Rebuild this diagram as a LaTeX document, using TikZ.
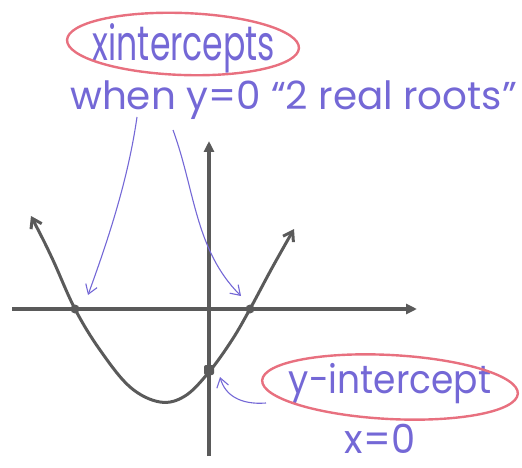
\documentclass[tikz,border=0pt]{standalone}
\usepackage{fontspec}
\setmainfont{Poppins}
\usetikzlibrary{arrows.meta,shapes.geometric}
\definecolor{pen}{HTML}{7468D6}
\definecolor{hl}{HTML}{E8707F}
\definecolor{ink}{HTML}{5A5A5A}
\tikzset{
  axis/.style={ink, line width=3.4pt, -{Triangle[length=11pt,width=10pt]}},
  curve/.style={ink, line width=3pt, {Straight Barb[length=9pt,width=12pt]}-{Straight Barb[length=9pt,width=12pt]}},
  dot/.style={circle, fill=ink, inner sep=0pt, minimum size=9pt},
  penarrow/.style={pen, line width=1.1pt, -{Straight Barb[length=9pt,width=12pt]}},
  pentext/.style={pen, inner sep=0pt, font=\fontsize{36}{40}\selectfont},
  ring/.style={draw=hl, line width=2.4pt, ellipse, inner sep=0pt}
}
\begin{document}
\begin{tikzpicture}[x=1pt,y=-1pt]
\useasboundingbox (0,0) rectangle (522,468);
% axes
\coordinate (xa) at (12,309);
\coordinate (xb) at (417,309);
\coordinate (ya) at (209,456);
\coordinate (yb) at (209,141);
\draw[axis] (xa) -- (xb);
\draw[axis] (ya) -- (yb);
% parabola
\draw[curve] plot[smooth, tension=0.6] coordinates {(31,216) (52,258) (75,309) (100,350) (130,387) (160,402) (185,396) (209,372) (232,340) (250,309) (272,268) (294,229)};
\node[dot] (xl) at (75,309) {};
\node[dot] (xr) at (250,309) {};
\node[dot, rectangle, rounded corners=2pt, minimum size=10pt] (yi) at (209,370) {};
% labels
\node[pentext] (xlab) at (184,48) {\scalebox{0.92}[1.35]{xintercepts}};
\node[ring, minimum width=232pt, minimum height=62pt, rotate=-2] (xring) at (183,44) {};
\node[pentext, anchor=west] (when) at (70,100) {\scalebox{1.08}[1.08]{when y=0 “2 real roots”}};
\node[pentext] (ylab) at (390,384) {\scalebox{1}[1.1]{y-intercept}};
\node[ring, minimum width=256pt, minimum height=64pt, rotate=-3] (yring) at (390,387) {};
\node[pentext, anchor=south, font=\fontsize{32}{36}\selectfont] (x0) at (380,454) {\scalebox{1.2}[1.25]{x=0}};
% arrows
\coordinate (la) at (137,117);
\coordinate (lt) at (88,295);
\coordinate (ra) at (173,130);
\coordinate (rt) at (241,296);
\coordinate (ya0) at (266,403);
\coordinate (yt) at (220,377);
\draw[penarrow] (la) .. controls (128,180) and (108,240) .. (lt);
\draw[penarrow] (ra) .. controls (195,190) and (195,250) .. (rt);
\draw[penarrow] (ya0) .. controls (240,405) and (225,395) .. (yt);
\end{tikzpicture}
\end{document}
